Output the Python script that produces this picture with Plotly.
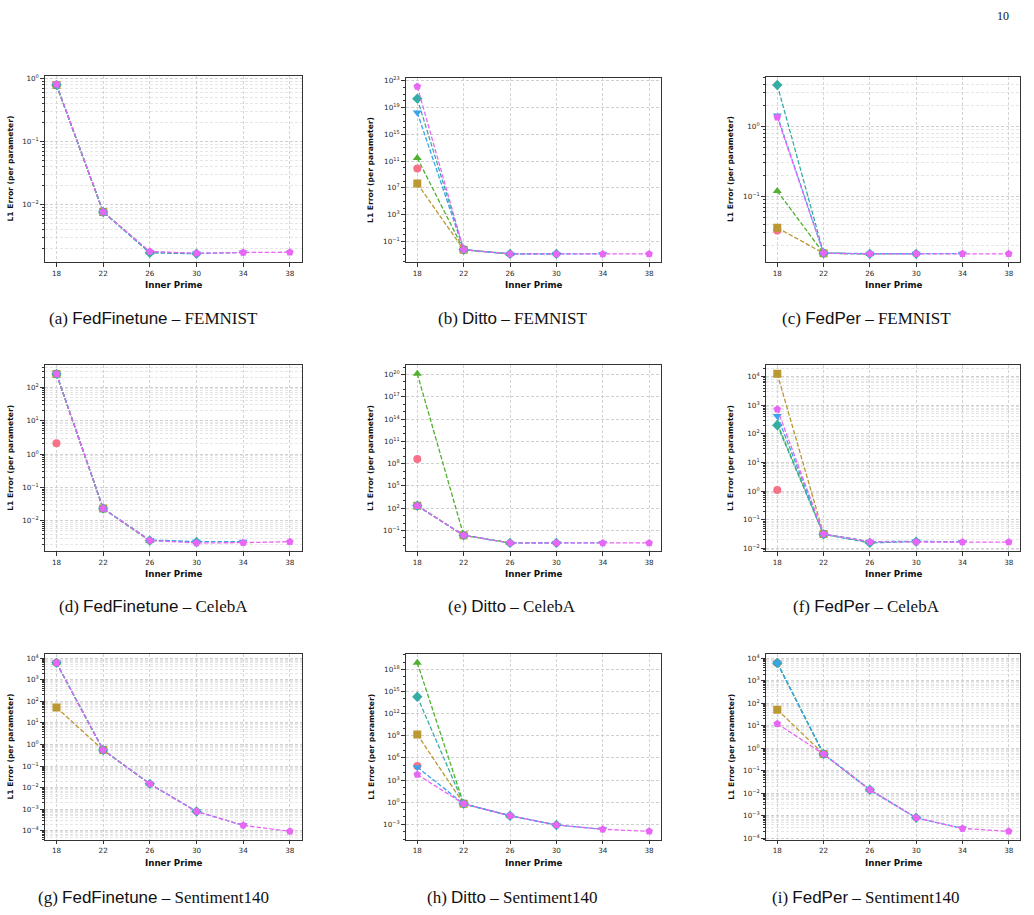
import numpy as np
import plotly.graph_objects as go

W, H = 1034, 915

inner_prime = [18, 22, 26, 30, 34, 38]
x_ticks = [18, 22, 26, 30, 34, 38]

series_names = ["Config 1", "Config 2", "Config 3", "Config 4", "Config 5", "Config 6"]
series_colors = ["#f77189", "#bb9832", "#50b131", "#36ada4", "#3ba3ec", "#e866f4"]
series_symbols = ["circle", "square", "triangle-up", "diamond", "triangle-down", "pentagon"]

# (a) FedFinetune - FEMNIST
a_s1 = [0.80]
a_s2 = [0.80, 0.0076]
a_s3 = [0.80, 0.0076, 0.00172]
a_s4 = [0.80, 0.0076, 0.00170, 0.00164]
a_s5 = [0.81, 0.0077, 0.00176, 0.00166, 0.00172]
a_s6 = [0.82, 0.0076, 0.00178, 0.00167, 0.00172, 0.00174]
# (b) Ditto - FEMNIST
b_s1 = [8e9]
b_s2 = [4.5e7, 0.006]
b_s3 = [3e11, 0.006, 0.0014]
b_s4 = [2.2e20, 0.006, 0.0014, 0.0014]
b_s5 = [1.8e18, 0.006, 0.0014, 0.0014, 0.0014]
b_s6 = [1.4e22, 0.006, 0.0014, 0.0014, 0.0014, 0.0014]
# (c) FedPer - FEMNIST
c_s1 = [0.0325]
c_s2 = [0.0357, 0.0154]
c_s3 = [0.119, 0.0154, 0.0151]
c_s4 = [3.9, 0.0154, 0.0151, 0.0151]
c_s5 = [1.43, 0.0155, 0.0152, 0.0152, 0.0152]
c_s6 = [1.35, 0.0154, 0.0151, 0.0151, 0.0151, 0.0151]
# (d) FedFinetune - CelebA
d_s1 = [2.1]
d_s2 = [250, 0.0234]
d_s3 = [245, 0.0234, 0.0025]
d_s4 = [250, 0.0235, 0.0026, 0.00235]
d_s5 = [252, 0.0236, 0.0027, 0.00240, 0.00240]
d_s6 = [250, 0.0234, 0.0026, 0.00220, 0.00224, 0.00240]
# (e) Ditto - CelebA
e_s1 = [4.3e8]
e_s2 = [214, 0.022]
e_s3 = [1.25e20, 0.022, 0.0021]
e_s4 = [214, 0.022, 0.0021, 0.0021]
e_s5 = [214, 0.022, 0.0021, 0.0021, 0.0021]
e_s6 = [214, 0.022, 0.0021, 0.0021, 0.0021, 0.0021]
# (f) FedPer - CelebA
f_s1 = [1.1]
f_s2 = [12600, 0.0315]
f_s3 = [230, 0.031, 0.017]
f_s4 = [200, 0.031, 0.0155, 0.0172]
f_s5 = [420, 0.0315, 0.0172, 0.0176, 0.0168]
f_s6 = [730, 0.0318, 0.0168, 0.0166, 0.0166, 0.0166]
# (g) FedFinetune - Sentiment140
g_s1 = [6000]
g_s2 = [52, 0.55]
g_s3 = [6000, 0.56, 0.015]
g_s4 = [6000, 0.55, 0.015, 0.00079]
g_s5 = [6000, 0.56, 0.015, 0.0008, 0.00018]
g_s6 = [6000, 0.55, 0.015, 0.00078, 0.00018, 0.000095]
# (h) Ditto - Sentiment140
h_s1 = [8e4]
h_s2 = [1.5e9, 0.59]
h_s3 = [8e18, 0.59, 0.0145]
h_s4 = [2e14, 0.59, 0.0145, 0.0008]
h_s5 = [5.6e4, 0.59, 0.0145, 0.0008, 0.00021]
h_s6 = [5.6e3, 0.59, 0.0145, 0.0008, 0.00021, 0.00011]
# (i) FedPer - Sentiment140
i_s1 = [6200]
i_s2 = [52, 0.55]
i_s3 = [6200, 0.55, 0.0141]
i_s4 = [6200, 0.55, 0.0141, 0.0008]
i_s5 = [6300, 0.55, 0.0141, 0.0008, 0.00027]
i_s6 = [12.3, 0.55, 0.0141, 0.0008, 0.00027, 0.0002]

panel_data = [
    [a_s1, a_s2, a_s3, a_s4, a_s5, a_s6],
    [b_s1, b_s2, b_s3, b_s4, b_s5, b_s6],
    [c_s1, c_s2, c_s3, c_s4, c_s5, c_s6],
    [d_s1, d_s2, d_s3, d_s4, d_s5, d_s6],
    [e_s1, e_s2, e_s3, e_s4, e_s5, e_s6],
    [f_s1, f_s2, f_s3, f_s4, f_s5, f_s6],
    [g_s1, g_s2, g_s3, g_s4, g_s5, g_s6],
    [h_s1, h_s2, h_s3, h_s4, h_s5, h_s6],
    [i_s1, i_s2, i_s3, i_s4, i_s5, i_s6],
]

# major tick exponents for each panel
panel_major_exp = [
    [-2, -1, 0],
    [-1, 3, 7, 11, 15, 19, 23],
    [-1, 0],
    [-2, -1, 0, 1, 2],
    [-1, 2, 5, 8, 11, 14, 17, 20],
    [-2, -1, 0, 1, 2, 3, 4],
    [-4, -3, -2, -1, 0, 1, 2, 3, 4],
    [-3, 0, 3, 6, 9, 12, 15, 18],
    [-4, -3, -2, -1, 0, 1, 2, 3, 4],
]
panel_dense = [True, False, True, True, False, True, True, False, True]

methods = ["FedFinetune", "Ditto", "FedPer"]
datasets = ["FEMNIST", "CelebA", "Sentiment140"]
letters = "abcdefghi"

# layout geometry (pixels)
col_x = [(44.8, 301.5), (405.7, 660.7), (765.7, 1020.3)]
row_y = [(73.8, 261.0), (364.7, 552.0), (655.7, 842.3)]
panel_top_adj = [[73.3, 75.7, 74.0], [364.7, 364.7, 364.7], [655.7, 655.7, 655.7]]
ytitle_x = [10.5, 370.7, 730.7]
xtitle_y = [284, 575, 866]
caption_y = [318, 607, 900]
caption_x = [153, 512, 866]

fig = go.Figure()

TICKFONT = dict(family="DejaVu Sans", size=7.2, color="#262626")
SERIF = "Liberation Serif"
SANS = "Liberation Sans"

for p in range(9):
    r, c = divmod(p, 3)
    ax_id = "" if p == 0 else str(p + 1)
    xref = "x" + ax_id
    yref = "y" + ax_id
    vals_all = []
    for s in range(6):
        ys = panel_data[p][s]
        xs = inner_prime[:len(ys)]
        vals_all += ys
        fig.add_trace(go.Scatter(
            x=xs, y=ys, xaxis=xref, yaxis=yref, name=series_names[s],
            mode="lines+markers", showlegend=False,
            line=dict(color=series_colors[s], width=1.3, dash="4.5px,2px"),
            marker=dict(symbol=series_symbols[s], size=8, color=series_colors[s],
                        line=dict(width=0)),
        ))
    lv = np.log10(np.array(vals_all, dtype=float))
    lo, hi = lv.min(), lv.max()
    pad = 0.05 * (hi - lo)
    yr = [lo - pad, hi + pad]

    exps = panel_major_exp[p]
    tickvals = [10.0 ** e for e in exps]
    ticktext = ["10<sup>%s</sup>" % (str(e).replace("-", "\u2212")) for e in exps]

    # minor ticks
    minor_vals = []
    e_lo, e_hi = int(np.floor(yr[0])) - 1, int(np.ceil(yr[1])) + 1
    if panel_dense[p]:
        for e in range(e_lo, e_hi):
            for m in range(2, 10):
                v = m * 10.0 ** e
                if yr[0] <= np.log10(v) <= yr[1]:
                    minor_vals.append(v)
    else:
        for e in range(e_lo, e_hi):
            if e not in exps and yr[0] <= e <= yr[1]:
                minor_vals.append(10.0 ** e)

    x0, x1 = col_x[c]
    ytop = panel_top_adj[r][c]
    ybot = row_y[r][1]
    xdom = [x0 / W, x1 / W]
    ydom = [1 - ybot / H, 1 - ytop / H]

    fig.layout["xaxis" + ax_id] = dict(
        domain=xdom, anchor=yref, range=[17, 39], tickmode="array", tickvals=x_ticks,
        showgrid=True, gridcolor="#d4d4d4", griddash="3px,2px", gridwidth=0.8,
        showline=True, mirror=True, linecolor="#333333", linewidth=1.2,
        ticks="outside", ticklen=3.5, tickwidth=0.8, tickcolor="#333333",
        tickfont=TICKFONT, zeroline=False,
    )
    minor = dict(tickmode="array", tickvals=minor_vals, ticks="outside", ticklen=2,
                 tickwidth=0.6, tickcolor="#333333",
                 showgrid=panel_dense[p], gridcolor="#e6e6e6", griddash="3px,2px", gridwidth=0.6)
    fig.layout["yaxis" + ax_id] = dict(
        domain=ydom, anchor=xref, type="log", range=yr,
        tickmode="array", tickvals=tickvals, ticktext=ticktext,
        showgrid=True, gridcolor="#d0d0d0", griddash="3px,2px", gridwidth=0.8,
        showline=True, mirror=True, linecolor="#333333", linewidth=1.2,
        ticks="outside", ticklen=3.5, tickwidth=0.8, tickcolor="#333333",
        tickfont=TICKFONT, zeroline=False, minor=minor,
    )

    # y title
    fig.add_annotation(
        text="<b>L1 Error (per parameter)</b>", xref="paper", yref="paper",
        x=ytitle_x[c] / W, y=1 - ((ytop + ybot) / 2) / H, textangle=-90,
        showarrow=False, xanchor="center", yanchor="middle",
        font=dict(family="DejaVu Sans", size=7.6, color="#111111"),
    )
    # x title
    fig.add_annotation(
        text="<b>Inner Prime</b>", xref="paper", yref="paper",
        x=((x0 + x1) / 2) / W, y=1 - xtitle_y[r] / H,
        showarrow=False, xanchor="center", yanchor="middle",
        font=dict(family="DejaVu Sans", size=8.7, color="#111111"),
    )
    # caption
    cap = "(%s) <span style=\"font-family:%s\">%s</span> \u2013 %s" % (
        letters[p], SANS, methods[c], datasets[r])
    fig.add_annotation(
        text=cap, xref="paper", yref="paper",
        x=caption_x[c] / W, y=1 - caption_y[r] / H,
        showarrow=False, xanchor="center", yanchor="middle",
        font=dict(family=SERIF, size=17, color="#111111"),
    )

fig.add_annotation(
    text="10", xref="paper", yref="paper", x=1011 / W, y=1 - 13 / H,
    showarrow=False, xanchor="right", yanchor="middle",
    font=dict(family=SERIF, size=12, color="#111111"),
)

fig.update_layout(
    width=W, height=H, margin=dict(l=0, r=0, t=0, b=0),
    paper_bgcolor="white", plot_bgcolor="white", showlegend=False,
)

fig.write_html("out.html")
